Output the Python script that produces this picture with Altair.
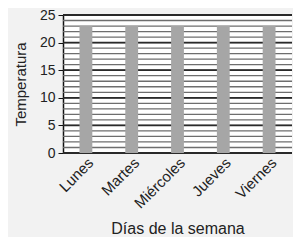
import altair as alt
import pandas as pd

dias = ["Lunes", "Martes", "Miércoles", "Jueves", "Viernes"]
temperaturas = [23, 23, 23, 23, 23]
minor_grid = list(range(0, 26))
major_ticks = [0, 5, 10, 15, 20, 25]

df = pd.DataFrame({"dia": dias, "temp": temperaturas})
minor_df = pd.DataFrame({"temp": minor_grid})
major_df = pd.DataFrame({"temp": major_ticks})

yscale = alt.Scale(domain=[0, 25], nice=False)
FONT = "Liberation Sans"

yaxis = alt.Axis(
    title="Temperatura",
    values=major_ticks,
    grid=False,
    domainColor="#111",
    domainWidth=1.5,
    tickColor="#111",
    tickSize=5,
    labelFont=FONT,
    labelFontSize=14,
    labelColor="#222",
    labelPadding=3,
    titleFont=FONT,
    titleFontSize=15,
    titleFontWeight="normal",
    titleColor="#222",
    titlePadding=11,
)

minor = alt.Chart(minor_df).mark_rule(color="#6e6e6e", strokeWidth=1.3).encode(
    y=alt.Y("temp:Q", scale=yscale, axis=yaxis)
)
major = alt.Chart(major_df).mark_rule(color="#2a2a2a", strokeWidth=1.8).encode(
    y=alt.Y("temp:Q", scale=yscale, axis=yaxis)
)

bars = alt.Chart(df).mark_bar(color="#a6a6a6").encode(
    x=alt.X(
        "dia:N",
        sort=dias,
        scale=alt.Scale(paddingInner=0.72, paddingOuter=0.36),
        axis=alt.Axis(
            title="Días de la semana",
            labelAngle=-45,
            labelAlign="right",
            labelBaseline="top",
            labelFont=FONT,
            labelFontSize=15,
            labelColor="#222",
            labelPadding=2,
            ticks=False,
            domain=False,
            titleFont=FONT,
            titleFontSize=16,
            titleFontWeight="normal",
            titleColor="#222",
            titlePadding=10,
        ),
    ),
    y=alt.Y("temp:Q", scale=yscale, axis=yaxis),
)

chart = (
    alt.layer(minor, major, bars)
    .properties(width=229, height=138, background="#f2f2f2",
                padding={"left": 5, "top": 0, "right": 0, "bottom": 0})
    .configure_view(fill="#ffffff", stroke=None)
)

chart.save("out.html", embed_options={"renderer": "svg", "actions": False})
